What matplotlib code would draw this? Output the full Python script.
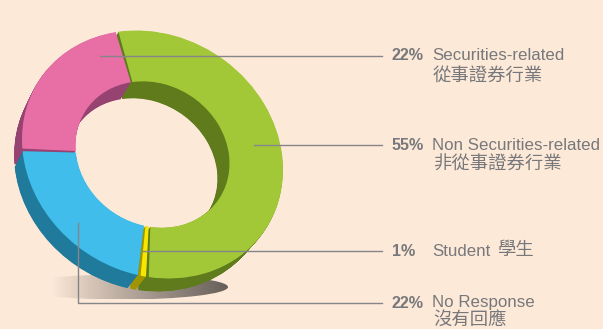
import numpy as np
import matplotlib
matplotlib.use("Agg")
import matplotlib.pyplot as plt
from matplotlib.patches import Wedge, Ellipse
from matplotlib.transforms import Affine2D

# Survey shares, clockwise from the green slice
categories = ["Non Securities-related", "Student", "No Response", "Securities-related"]
values = [55, 1, 22, 22]
top_colors = ["#a2c837", "#f7e600", "#40bdea", "#e86ea6"]
wall_colors = ["#5f7b1c", "#a09500", "#1f7a9c", "#964372"]

# Label rows: percentage, English, Chinese
label_pct = ["22%", "55%", "1%", "22%"]
label_en = ["Securities-related", "Non Securities-related", "Student", "No Response"]
label_zh = ["從事證券行業", "非從事證券行業", "學生", "沒有回應"]
label_y = [56, 145, 251, 303]
zh_pos = [(433, 77), (433, 165), (497, 251), (433, 320.5)]
leader_start = [(100, 56), (254, 145), (143, 251), (78, 223)]

BG = "#fde9d8"
TEXT = "#77787b"
LINE = "#85858a"
FONT = ["Liberation Sans", "Noto Sans CJK TC"]

fig = plt.figure(figsize=(6.03, 3.29), dpi=100, facecolor=BG)
ax = fig.add_axes([0, 0, 1, 1])

# Soft floor shadow, darkest at the right tip
shadow = np.zeros((2, 256, 4))
shadow[..., :3] = np.array([0.40, 0.37, 0.35])
shadow[..., 3] = np.linspace(0, 1, 256) ** 0.9
img = ax.imshow(shadow, extent=(52, 228, 299, 275), aspect="auto", zorder=1,
                interpolation="bilinear")
img.set_clip_path(Ellipse((122, 287), 212, 25, transform=ax.transData))
ax.set_xlim(0, 603)
ax.set_ylim(329, 0)
ax.axis("off")


def ring(depth):
    """Affine map from the unit ring to the tilted disc at a given depth (0..1)."""
    scale = 1 - 0.02 * depth
    return (Affine2D().scale(135.5 * scale, 118.5 * scale).rotate_deg(33.7)
            .translate(152.5 - 10.5 * depth, 154.5 + 15.5 * depth) + ax.transData)


# Slice angles follow the values
edges = 224 + np.concatenate([[0], np.cumsum(values)]) * 3.6
GAP = 0.6
z = 2
for depth in np.linspace(1, 0, 37):
    is_top = depth == 0
    for i in range(len(values)):
        ax.add_patch(Wedge((0, 0), 1, edges[i] + GAP, edges[i + 1] - GAP, width=0.41,
                           facecolor=top_colors[i] if is_top else wall_colors[i],
                           edgecolor="none", transform=ring(depth), zorder=z))
    z += 1

# Leader lines
for (x0, y0), y in zip(leader_start, label_y):
    ax.plot([x0, x0, 382], [y0, y, y], color=LINE, lw=1.0, zorder=z,
            solid_joinstyle="miter")

# Labels
for pct, en, zh, (zx, zy), y in zip(label_pct, label_en, label_zh, zh_pos, label_y):
    ax.text(392, y, pct, fontsize=11.6, fontweight="bold", color=TEXT, family=FONT,
            va="center", ha="left", zorder=z)
    ax.text(432, y, en, fontsize=12.2, color=TEXT, family=FONT, va="center", ha="left", zorder=z)
    ax.text(zx, zy, zh, fontsize=13.2, color=TEXT, family=FONT, va="center", ha="left", zorder=z)

fig.savefig("out.png", dpi=100, facecolor=BG)
